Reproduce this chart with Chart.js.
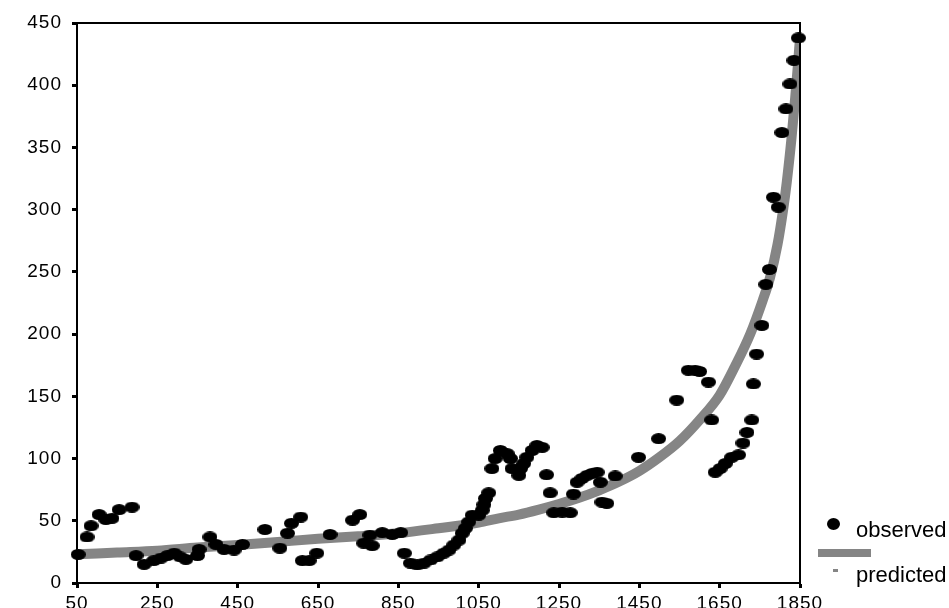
<!DOCTYPE html>
<html>
<head>
<meta charset="utf-8">
<script src="https://cdn.jsdelivr.net/npm/chart.js@4.4.1/dist/chart.umd.min.js"></script>
<style>
  html, body { margin: 0; padding: 0; background: #fff; overflow: hidden; }
  #wrap { position: relative; width: 949px; height: 608px; overflow: hidden; }
  canvas { position: absolute; left: 0; top: 0; }
  .leg { position: absolute; font-family: 'Liberation Sans', Arial, sans-serif; font-size: 22px; line-height: 22px; color: #000; white-space: nowrap; }
</style>
</head>
<body>
<div id="wrap">
  <canvas id="chart" width="949" height="620"></canvas>
  <div style="position:absolute;left:827px;top:518px;width:13px;height:12px;border-radius:50%;background:#000"></div>
  <div class="leg" style="left:856px;top:519px">observed</div>
  <div style="position:absolute;left:818px;top:549px;width:53px;height:8px;background:#858585"></div>
  <div style="position:absolute;left:833px;top:569px;width:5px;height:3px;background:#858585"></div>
  <div class="leg" style="left:856px;top:564px">predicted</div>
</div>
<script>
// observed points (x, y)
const obsX = [53, 75, 85, 105, 122, 137, 155, 187, 197, 217, 241, 259, 275, 292, 307, 321, 350, 354, 381, 396,
  416, 441, 462, 518, 555, 574, 584, 607, 611, 628, 647, 680, 736, 754, 764, 779, 785, 810, 835, 856,
  865, 880, 897, 914, 930, 947, 963, 976, 988, 1001, 1009, 1017, 1025, 1034, 1050, 1059, 1063, 1067, 1075, 1083,
  1091, 1104, 1121, 1129, 1133, 1150, 1154, 1162, 1170, 1183, 1195, 1208, 1219, 1228, 1237, 1258, 1278, 1286, 1295, 1307,
  1320, 1332, 1345, 1353, 1357, 1369, 1390, 1448, 1498, 1543, 1572, 1589, 1600, 1622, 1630, 1639, 1651, 1664, 1680, 1697,
  1708, 1718, 1730, 1734, 1742, 1755, 1765, 1774, 1784, 1796, 1805, 1815, 1825, 1835, 1846];
const obsY = [23, 37, 46, 55, 51, 52, 59, 61, 22, 15, 18, 20, 22, 24, 21, 19, 22, 27, 37, 31,
  27, 26.5, 31, 43, 28, 40, 48, 53, 18, 18, 24, 39, 50.5, 55, 32, 38.5, 30, 40.5, 39, 40.5,
  24, 16, 14.5, 16, 18.5, 21, 24, 26.5, 30.5, 34.5, 40, 44, 49, 54.5, 54.5, 58.5, 63, 68, 72.5, 92,
  100, 106.5, 104, 100, 92, 86.5, 92, 96, 101, 106.5, 110.5, 109, 87, 72.5, 56.5, 57, 56.5, 71.5, 81, 84,
  86.5, 88, 89, 81, 65, 64, 86, 101, 116, 147, 171, 171, 170, 161.5, 131, 89, 92, 96, 101, 103,
  112.5, 121, 131, 160, 184, 207, 240, 252, 310, 302, 362, 381, 401, 420, 438];

// predicted curve read along the gray band
const predX = [50, 150, 250, 350, 450, 550, 650, 750, 850, 950, 1050, 1100, 1150, 1200, 1250, 1300, 1350, 1400,
  1450, 1500, 1550, 1600, 1650, 1688, 1726, 1757, 1775, 1794, 1808, 1817, 1829, 1838, 1844, 1850];
const predY = [23, 24.5, 26, 28.5, 30.5, 33, 35.5, 37.5, 40, 44, 48.5, 52, 55, 59, 63.5, 68.5, 74.5, 81.5,
  90, 101, 114, 131, 151, 174, 200, 227, 245, 272, 300, 322, 358, 390, 413, 438];

const xTicks = [50, 250, 450, 650, 850, 1050, 1250, 1450, 1650, 1850];
const yTicks = [0, 50, 100, 150, 200, 250, 300, 350, 400, 450];

const gray = '#858585';
const font = { family: "'Liberation Sans', Arial, sans-serif", size: 19 };

// black ellipse marker, a bit wider than tall
const dot = document.createElement('canvas');
dot.width = 15; dot.height = 11;
const dctx = dot.getContext('2d');
dctx.fillStyle = '#000';
dctx.beginPath();
dctx.ellipse(7.5, 5.5, 7.5, 5.5, 0, 0, Math.PI * 2);
dctx.fill();

const spacing = {
  id: 'spacing',
  beforeLayout(chart) { chart.ctx.letterSpacing = '1px'; },
  beforeDraw(chart) { chart.ctx.letterSpacing = '1px'; }
};

const frame = {
  id: 'frame',
  afterDraw(chart) {
    const { ctx, chartArea: a } = chart;
    ctx.save();
    ctx.strokeStyle = '#000';
    ctx.lineWidth = 2;
    ctx.beginPath();
    ctx.moveTo(a.left, a.top);
    ctx.lineTo(a.right, a.top);
    ctx.lineTo(a.right, a.bottom);
    ctx.stroke();
    ctx.restore();
  }
};

const axisCommon = {
  type: 'linear',
  border: { display: true, color: '#000', width: 2 },
  grid: { drawOnChartArea: false, drawTicks: true, tickLength: 5, tickWidth: 3, tickColor: '#000' }
};

new Chart(document.getElementById('chart'), {
  type: 'scatter',
  data: {
    datasets: [
      {
        label: 'observed',
        data: obsX.map((x, i) => ({ x, y: obsY[i] })),
        pointStyle: dot,
        pointRadius: 7,
        clip: false,
        order: 0
      },
      {
        label: 'predicted',
        data: predX.map((x, i) => ({ x, y: predY[i] })),
        showLine: true,
        borderColor: gray,
        borderWidth: 10,
        pointRadius: 0,
        cubicInterpolationMode: 'monotone',
        order: 1
      }
    ]
  },
  options: {
    responsive: false,
    animation: false,
    devicePixelRatio: 1,
    layout: { padding: { top: 23, right: 149, left: 0, bottom: 0 } },
    plugins: { legend: { display: false }, tooltip: { enabled: false } },
    scales: {
      x: {
        ...axisCommon,
        position: 'bottom',
        min: 50, max: 1850,
        afterBuildTicks(scale) { scale.ticks = xTicks.map(v => ({ value: v })); },
        afterFit(scale) { scale.height = 37; },
        ticks: { color: '#000', font, padding: 4, autoSkip: false, maxRotation: 0, callback: v => String(v) }
      },
      y: {
        ...axisCommon,
        position: 'left',
        min: 0, max: 450,
        afterBuildTicks(scale) { scale.ticks = yTicks.map(v => ({ value: v })); },
        afterFit(scale) { scale.width = 77; },
        ticks: { color: '#000', font, padding: 10, autoSkip: false, callback: v => String(v) }
      }
    }
  },
  plugins: [spacing, frame]
});
</script>
</body>
</html>
